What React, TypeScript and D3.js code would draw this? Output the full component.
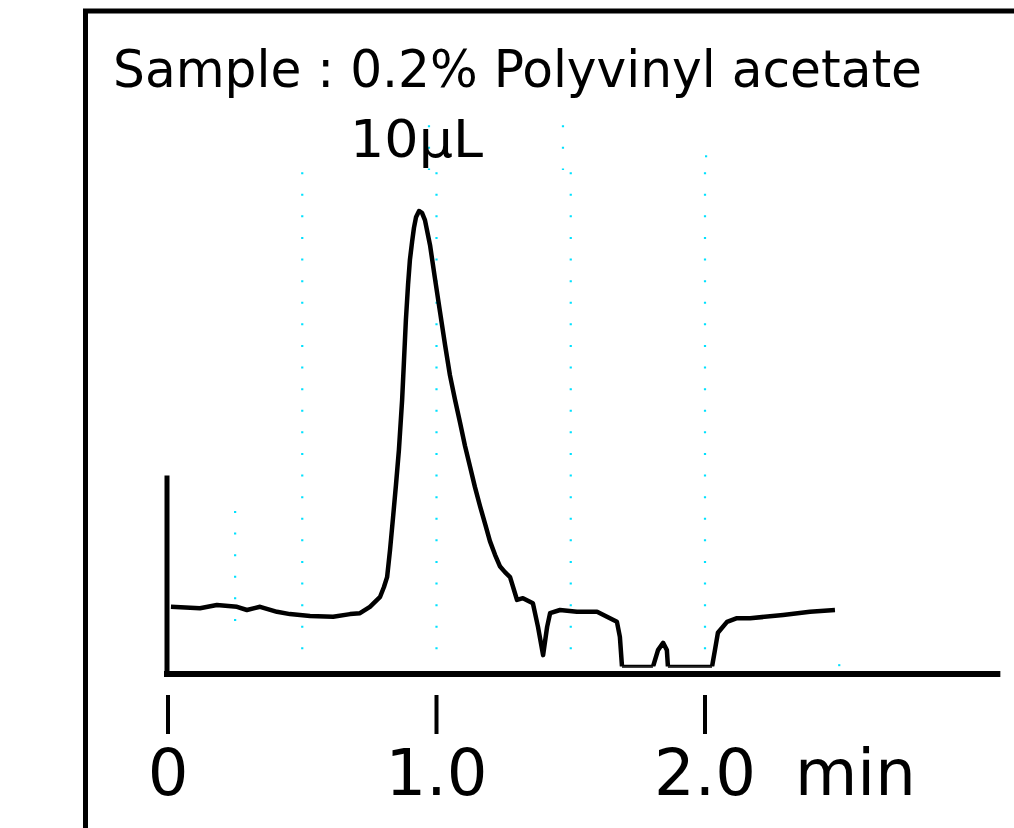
import React from 'react';
import * as d3 from 'd3';

// chromatogram trace, time in min, signal in % of peak height
const times = [
  0.011, 0.119, 0.182, 0.257, 0.294, 0.343, 0.406, 0.454, 0.529, 0.615, 0.678, 0.715,
  0.752, 0.79, 0.804, 0.816, 0.827, 0.838, 0.849, 0.86, 0.872, 0.879, 0.886, 0.894,
  0.901, 0.909, 0.916, 0.924, 0.935, 0.946, 0.957, 0.976, 0.994, 1.013, 1.032, 1.05,
  1.069, 1.088, 1.106, 1.125, 1.143, 1.162, 1.181, 1.199, 1.218, 1.236, 1.255, 1.274,
  1.3, 1.322, 1.359, 1.378, 1.397, 1.412, 1.423, 1.46, 1.523, 1.598, 1.635, 1.672,
  1.683, 1.691, 1.806, 1.825, 1.844, 1.858, 1.862, 2.026, 2.037, 2.048, 2.082, 2.119,
  2.168, 2.291, 2.391, 2.484,
];
const signal = [
  13.2, 12.9, 13.6, 13.2, 12.5, 13.2, 12.1, 11.6, 11.2, 11.0, 11.6, 11.8,
  13.2, 15.4, 17.5, 19.7, 25.7, 32.7, 39.9, 47.6, 58.6, 67.3, 76.1, 83.8,
  89.3, 93.2, 96.3, 98.7, 100, 99.6, 98.0, 92.5, 85.3, 77.9, 70.6, 64.0,
  58.6, 53.5, 48.5, 43.9, 39.5, 35.3, 31.4, 27.6, 24.6, 22.1, 20.8, 19.7,
  14.7, 15.1, 14.0, 8.8, 2.6, 8.8, 11.8, 12.5, 12.1, 12.1, 11.0, 9.9,
  6.6, 0, 0, 3.7, 5.3, 3.7, 0, 0, 3.7, 7.5, 9.9, 10.7,
  10.7, 11.4, 12.1, 12.5,
];

const tickValues = [0, 1, 2];
const tickLabels = ['0', '1.0', '2.0'];
const unitLabel = 'min';
const titleLine1 = 'Sample : 0.2% Polyvinyl acetate';
const titleLine2 = '10μL';

// dotted guide lines: time, top, bottom (signal units)
const gridTimes = [0.25, 0.5, 1.0, 1.5, 2.0, 2.5, 0.972, 1.471, 2.004];
const gridTops = [34, 108.3, 108.3, 108.3, 108.3, 0.4, 118.6, 118.6, 112];
const gridBottoms = [10.1, 3.9, 3.9, 3.9, 3.9, 0.4, 109.2, 109.2, 112];

const W = 1014;
const H = 828;

export default function App() {
  const x = d3.scaleLinear().domain([0, 2]).range([168, 705]);
  const y = d3.scaleLinear().domain([0, 100]).range([667, 211]);

  const data = times.map((t, i) => ({ t, v: signal[i] }));
  const path = d3
    .line<{ t: number; v: number }>()
    .x((d) => x(d.t))
    .y((d) => y(d.v))(data);

  const axisY = y(0) + 7;
  const font = '"DejaVu Sans", Verdana, sans-serif';

  return (
    <svg
      width={W}
      height={H}
      style={{ position: 'absolute', left: 0, top: 0, background: '#fff' }}
    >
      <defs>
        <clipPath id="trace-clip">
          <rect x={0} y={0} width={W} height={y(0) - 0.5} />
        </clipPath>
      </defs>
      <rect x={0} y={0} width={W} height={H} fill="#fff" />
      <rect x={85.5} y={11} width={2000} height={2000} fill="none" stroke="#000" strokeWidth={5} />

      {gridTimes.map((t, i) => (
        <line
          key={'g' + i}
          x1={x(t)}
          x2={x(t)}
          y1={y(gridTops[i]) - 1}
          y2={y(gridBottoms[i]) + 1}
          stroke="#00e1ff"
          strokeWidth={2.2}
          strokeDasharray="2 19.6"
        />
      ))}

      <text x={113} y={87} fontFamily={font} fontSize={52} textLength={809} lengthAdjust="spacingAndGlyphs">
        {titleLine1}
      </text>
      <text x={350} y={157} fontFamily={font} fontSize={52} textLength={133} lengthAdjust="spacingAndGlyphs">
        {titleLine2}
      </text>

      <path
        d={path || ''}
        fill="none"
        stroke="#000"
        strokeWidth={4.5}
        strokeLinejoin="round"
        clipPath="url(#trace-clip)"
      />
      <line x1={x(1.691)} x2={x(1.806)} y1={y(0)} y2={y(0)} stroke="#000" strokeWidth={1.5} />
      <line x1={x(1.862)} x2={x(2.026)} y1={y(0)} y2={y(0)} stroke="#000" strokeWidth={1.5} />

      {/* axes */}
      <line x1={x(0) - 1} x2={x(0) - 1} y1={y(42)} y2={axisY + 3} stroke="#000" strokeWidth={5} />
      <line x1={x(0) - 4} x2={x(3.1)} y1={axisY} y2={axisY} stroke="#000" strokeWidth={6} />

      {tickValues.map((t, i) => (
        <g key={'t' + i} transform={`translate(${x(t)},0)`}>
          <line x1={0} x2={0} y1={695} y2={734} stroke="#000" strokeWidth={4} />
          <text y={795} textAnchor="middle" fontFamily={font} fontSize={64}>
            {tickLabels[i]}
          </text>
        </g>
      ))}
      <text x={795} y={795} fontFamily={font} fontSize={64}>
        {unitLabel}
      </text>
    </svg>
  );
}
